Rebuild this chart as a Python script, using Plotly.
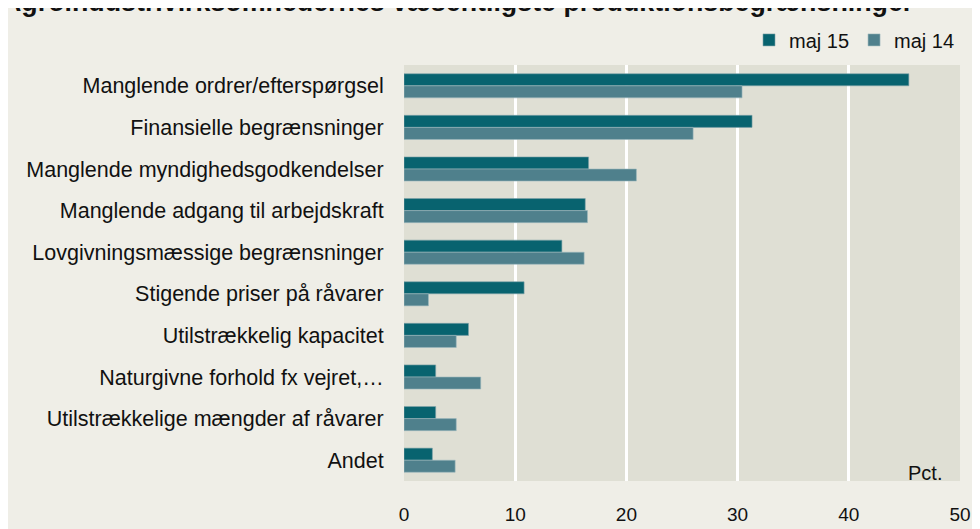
import plotly.graph_objects as go

categories = [
    "Manglende ordrer/efterspørgsel",
    "Finansielle begrænsninger",
    "Manglende myndighedsgodkendelser",
    "Manglende adgang til arbejdskraft",
    "Lovgivningsmæssige begrænsninger",
    "Stigende priser på råvarer",
    "Utilstrækkelig kapacitet",
    "Naturgivne forhold fx vejret,…",
    "Utilstrækkelige mængder af råvarer",
    "Andet",
]
maj15 = [45.4, 31.3, 16.6, 16.3, 14.2, 10.8, 5.8, 2.85, 2.85, 2.55]
maj14 = [30.4, 26.0, 20.9, 16.5, 16.2, 2.2, 4.7, 6.9, 4.7, 4.6]
x_ticks = [0, 10, 20, 30, 40, 50]

FONT = "Liberation Sans, Arial, sans-serif"

L, R, T, B = 396, 28, 49, 49
PH = 529 - T - B

fig = go.Figure()
fig.add_trace(go.Bar(y=categories, x=maj15, name="maj 15", orientation="h",
                     marker=dict(color="#08636F", line=dict(width=0.6, color="#7FA3AA"))))
fig.add_trace(go.Bar(y=categories, x=maj14, name="maj 14", orientation="h",
                     marker=dict(color="#4F808C", line=dict(width=0.6, color="#9DB8BE"))))

fig.update_layout(
    width=980, height=529,
    margin=dict(l=L, r=R, t=T, b=B, pad=0),
    paper_bgcolor="#EFEEE7",
    plot_bgcolor="#DFDFD4",
    barmode="group",
    bargap=0.42,
    bargroupgap=0,
    font=dict(family=FONT, size=20, color="#111111"),
    showlegend=True,
    legend=dict(orientation="h", x=1.0, xanchor="right", y=1 + 26 / PH, yanchor="middle",
                font=dict(size=20), bgcolor="rgba(0,0,0,0)", itemwidth=30,
                traceorder="normal"),
    xaxis=dict(range=[0, 50], tickvals=x_ticks, showgrid=True, gridcolor="white",
               gridwidth=2.5, zeroline=False, showline=False, ticks="outside",
               ticklen=16, tickcolor="rgba(0,0,0,0)", tickfont=dict(size=19)),
    yaxis=dict(autorange="reversed", showgrid=False, ticks="outside", ticklen=15,
               tickcolor="rgba(0,0,0,0)", tickfont=dict(size=21.5)),
    annotations=[
        dict(text="<b>Agroindustrivirksomhedernes væsentligste produktionsbegrænsninger</b>",
             xref="paper", yref="paper", x=(-8 - L) / 556, xanchor="left",
             y=(529 - B - 1) / PH, yanchor="bottom", showarrow=False,
             font=dict(size=26.8, color="#111111")),
        dict(text="Pct.", xref="x", yref="paper", x=48.6, xanchor="right",
             y=8 / PH, yanchor="middle", showarrow=False, font=dict(size=20)),
    ],
)

fig.write_html("out.html")
